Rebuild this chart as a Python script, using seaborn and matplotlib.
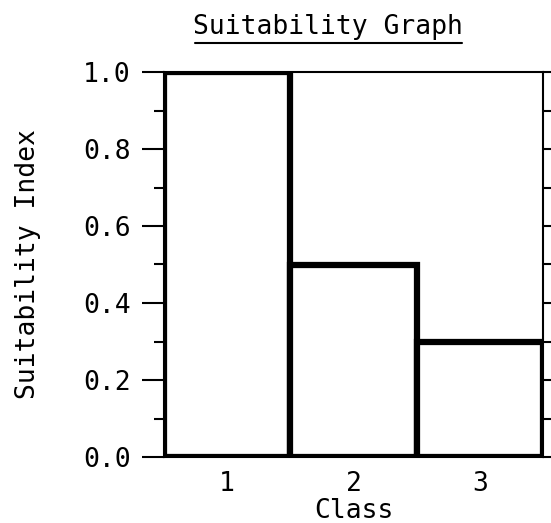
import matplotlib
matplotlib.use("Agg")
import matplotlib.pyplot as plt
import seaborn as sns
import pandas as pd
from matplotlib.lines import Line2D
from matplotlib.ticker import MultipleLocator

classes = ["1", "2", "3"]
suitability = [1.0, 0.5, 0.3]
title_text = "Suitability Graph"
xlabel_text = "Class"
ylabel_text = "Suitability Index"

sns.set_theme(style="white")
plt.rcParams['font.family'] = ['DejaVu Sans Mono']
plt.rcParams['text.color'] = 'black'
plt.rcParams['axes.labelcolor'] = 'black'
plt.rcParams['xtick.color'] = 'black'
plt.rcParams['ytick.color'] = 'black'

FS = 19

df = pd.DataFrame({"Class": classes, "SI": suitability})

fig = plt.figure(figsize=(5.51, 5.23), dpi=100)
ax = fig.add_axes([164/551, 1-457/523, 379/551, 385/523])

sns.barplot(data=df, x="Class", y="SI", ax=ax, width=1.0, color="white",
            edgecolor="black", linewidth=4.5, saturation=1)

ax.set_xlim(-0.5, 2.5)
ax.set_ylim(0, 1.0)
ax.yaxis.set_minor_locator(MultipleLocator(0.1))
ax.set_yticks([0.0, 0.2, 0.4, 0.6, 0.8, 1.0])
ax.set_yticklabels(["0.0", "0.2", "0.4", "0.6", "0.8", "1.0"])
ax.tick_params(axis="y", which="major", direction="out", length=16, width=1.5,
               labelsize=FS, pad=8, left=True, right=True, labelright=False)
ax.tick_params(axis="y", which="minor", direction="out", length=7, width=1.5,
               left=True, right=True)
ax.tick_params(axis="x", length=0, labelsize=FS, pad=10)

for s in ax.spines.values():
    s.set_color("black")
    s.set_linewidth(1.5)
    s.set_visible(True)

ax.set_xlabel(xlabel_text, fontsize=FS, labelpad=1)
ax.set_ylabel(ylabel_text, fontsize=FS, labelpad=30)

fig.text(328/551, 1-27/523, title_text, ha="center", va="center", fontsize=FS)
fig.add_artist(Line2D([195/551, 462/551], [1-43/523, 1-43/523], color="black",
                      linewidth=1.5, transform=fig.transFigure))

fig.savefig("out.png", dpi=100)
